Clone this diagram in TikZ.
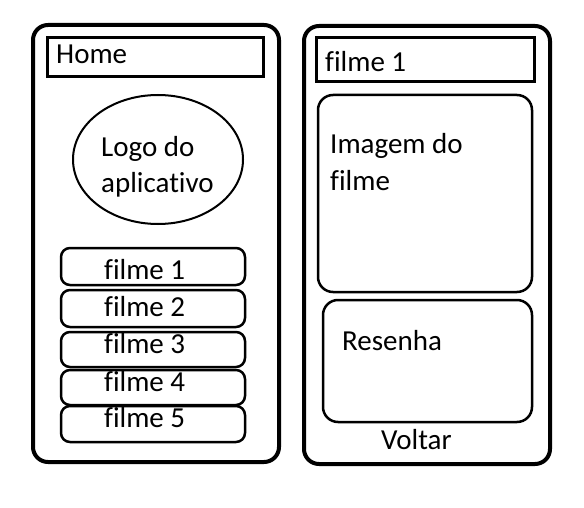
\documentclass[tikz,border=0pt]{standalone}
\usepackage{fontspec}
\setmainfont[Ligatures=NoCommon]{Carlito}
\begin{document}
\begin{tikzpicture}[x=1pt,y=-1pt,
  phone/.style={draw,line width=4pt,rounded corners=15pt},
  bar/.style={draw,line width=3pt},
  panel/.style={draw,line width=2.5pt,rounded corners=15pt},
  item/.style={draw,line width=2.5pt,rounded corners=9pt},
  lbl/.style={anchor=base west,inner sep=0pt,font=\fontsize{29}{36}\selectfont}]
\useasboundingbox (0,0) rectangle (584,508);
% left phone
\draw[phone] (33,25) rectangle (279,462);
\draw[bar] (47,38) rectangle (263,77);
\node[lbl] (home) at (56,64) {Home};
\draw[line width=2pt] (158,159.5) ellipse [x radius=85, y radius=64.5];
\node[lbl] (logo1) at (101,157) {Logo do};
\node[lbl] (logo2) at (101,193) {aplicativo};
\draw[item] (61,248) rectangle (245,285);
\draw[item] (61,290) rectangle (245,327);
\draw[item] (61,332) rectangle (245,367);
\draw[item] (61,370) rectangle (245,405);
\draw[item] (61,406) rectangle (245,442);
\node[lbl] (f1) at (104,279) {filme 1};
\node[lbl] (f2) at (104,316) {filme 2};
\node[lbl] (f3) at (104,353) {filme 3};
\node[lbl] (f4) at (104,391) {filme 4};
\node[lbl] (f5) at (104,427) {filme 5};
% right phone
\draw[phone] (304,26) rectangle (550,464);
\draw[bar] (316,38) rectangle (534,82);
\node[lbl] (title) at (325,72) {filme 1};
\draw[panel] (318,95) rectangle (532,292);
\node[lbl] (img1) at (330,154) {Imagem do};
\node[lbl] (img2) at (330,191) {filme};
\draw[panel] (323,300) rectangle (532,422);
\node[lbl] (res) at (342,350) {Resenha};
\node[lbl] (volt) at (381,449) {Voltar};
\end{tikzpicture}
\end{document}
